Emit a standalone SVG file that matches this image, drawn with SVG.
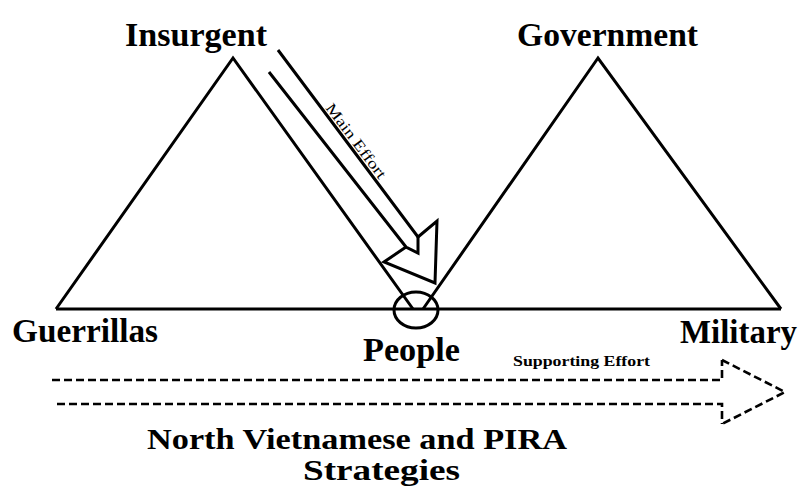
<svg xmlns="http://www.w3.org/2000/svg" width="801" height="492" viewBox="0 0 801 492">
<style>
.ln{fill:none;stroke:#000;stroke-width:3;stroke-linejoin:miter;stroke-linecap:butt}
.dash{fill:none;stroke:#000;stroke-width:2.6;stroke-dasharray:8 4}
.lbl{font-family:"Liberation Serif","Times New Roman",serif;font-weight:bold;fill:#000}
.big{font-size:33px}
.small{font-size:14px}
</style>
<rect width="801" height="492" fill="#fff"/>
<g id="baseline">
<line class="ln" x1="56" y1="309" x2="781" y2="309"/>
</g>
<g id="insurgent">
<polyline class="ln" points="56,309 233,58 413,309"/>
<text class="lbl big" x="125" y="46" textLength="142" lengthAdjust="spacingAndGlyphs">Insurgent</text>
</g>
<g id="government">
<polyline class="ln" points="423,309 598,58 781,309"/>
<text class="lbl big" x="517" y="46" textLength="181" lengthAdjust="spacingAndGlyphs">Government</text>
</g>
<g id="guerrillas">
<text class="lbl big" x="12" y="342" textLength="146" lengthAdjust="spacingAndGlyphs">Guerrillas</text>
</g>
<g id="military">
<text class="lbl big" x="680" y="343" textLength="117" lengthAdjust="spacingAndGlyphs">Military</text>
</g>
<g id="people">
<ellipse class="ln" cx="416" cy="310" rx="22" ry="18"/>
<text class="lbl big" x="363" y="361" textLength="97" lengthAdjust="spacingAndGlyphs">People</text>
</g>
<g id="connectors">
<g id="main-effort">
<polyline class="ln" points="269,72 406,247 418,253 418,237"/>
<polyline class="ln" points="278,50 418,237 437,221 435,283 384,262 406,247"/>
<text transform="translate(325,108) rotate(53)" x="0" y="0" font-family="Liberation Serif, Times New Roman, serif" font-size="15" fill="#000" textLength="90" lengthAdjust="spacingAndGlyphs">Main Effort</text>
</g>
<g id="supporting-effort">
<polyline class="dash" points="52,380 722,380 722,360"/>
<polyline class="dash" points="57,404 722,404 722,424"/>
<polyline class="dash" points="722,360 785,392 722,424"/>
<text class="lbl small" x="513" y="366" textLength="137" lengthAdjust="spacingAndGlyphs">Supporting Effort</text>
</g>
</g>
<g id="title">
<text class="lbl" font-size="30" x="147" y="449" textLength="420" lengthAdjust="spacingAndGlyphs">North Vietnamese and PIRA</text>
<text class="lbl" font-size="30" x="303" y="480" textLength="157" lengthAdjust="spacingAndGlyphs">Strategies</text>
</g>
</svg>
